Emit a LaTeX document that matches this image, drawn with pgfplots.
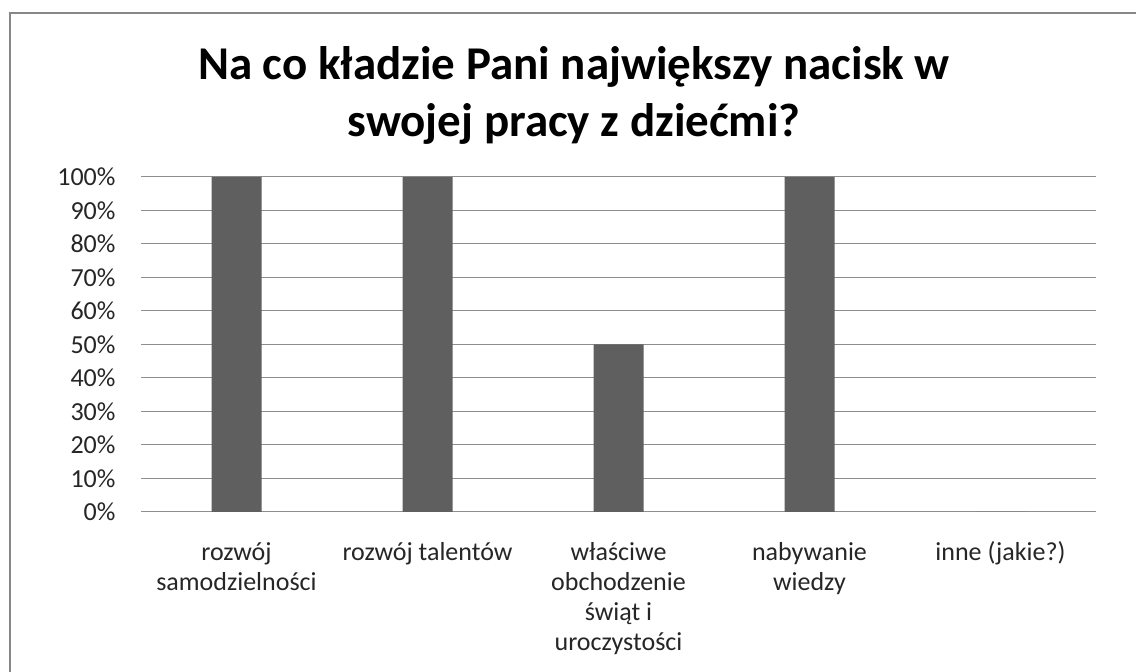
\documentclass[border=0pt]{standalone}
\usepackage{pgfplots}
\pgfplotsset{compat=1.18}
\usepackage{fontspec}
\setmainfont{Carlito}

\definecolor{barfill}{HTML}{5F5F5F}
\definecolor{gridgray}{HTML}{8E8E8E}
\definecolor{framegray}{HTML}{878787}

\begin{document}
\begin{tikzpicture}[x=1bp,y=1bp]
\path[use as bounding box] (0,0) rectangle (1136,672);
\fill[white] (0,0) rectangle (1136,672);
\draw[framegray, line width=2bp] (9.5,-20) -- (9.5,658.5) -- (1160,658.5);

% title: base anchor sits on the last line
\node[align=center, font=\fontsize{47bp}{57bp}\selectfont\bfseries, anchor=base]
  at (574,535) {Na co kładzie Pani największy nacisk w\\swojej pracy z dziećmi?};

\begin{axis}[
    at={(141bp,160bp)}, anchor=south west,
    scale only axis, width=955bp, height=335bp,
    ybar, bar width=50bp,
    xmin=-0.5, xmax=4.5, ymin=0, ymax=100,
    xtick={0,1,2,3,4},
    xticklabels={\strut rozwój\\samodzielności, \strut rozwój talentów, \strut właściwe\\obchodzenie\\świąt i\\uroczystości, \strut nabywanie\\wiedzy, \strut inne (jakie?)},
    ytick={0,10,...,100},
    yticklabels={0\%,10\%,20\%,30\%,40\%,50\%,60\%,70\%,80\%,90\%,100\%},
    axis x line*=bottom, axis y line*=left,
    y axis line style={draw=none},
    x axis line style={gridgray, line width=1bp, -},
    major tick length=0pt,
    ymajorgrids, grid style={gridgray, line width=1bp},
    xticklabel style={align=center, anchor=north, yshift=-24bp,
      font=\fontsize{26bp}{30bp}\selectfont, text=black!85},
    yticklabel style={anchor=east, xshift=-22bp,
      font=\fontsize{26bp}{30bp}\selectfont, text=black!85},
  ]
\addplot[fill=barfill, draw=none] coordinates {(0,100) (1,100) (2,50) (3,100) (4,0)};
\end{axis}
\end{tikzpicture}
\end{document}
